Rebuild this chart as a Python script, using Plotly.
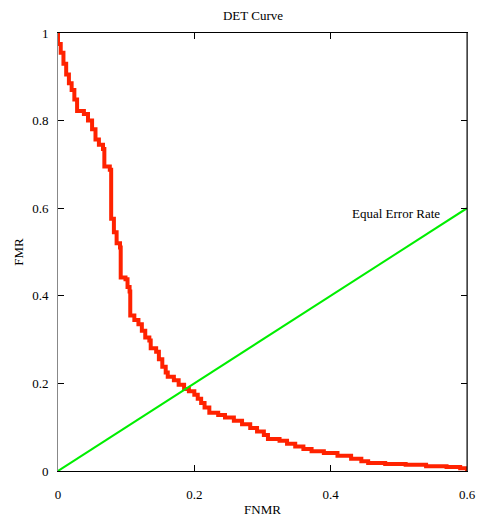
import plotly.graph_objects as go

# DET curve step vertices (x = FNMR at vertical segment, y = FMR after drop)
fnmr = [0, 0, 0.004, 0.008, 0.012, 0.016, 0.020, 0.024, 0.028, 0.038, 0.044, 0.050,
        0.055, 0.060, 0.066, 0.068, 0.076, 0.078, 0.082, 0.086, 0.091, 0.092, 0.099,
        0.102, 0.105, 0.106, 0.112, 0.118, 0.123, 0.128, 0.134, 0.136, 0.144, 0.148,
        0.153, 0.158, 0.161, 0.170, 0.177, 0.185, 0.192, 0.200, 0.205, 0.210, 0.215,
        0.222, 0.235, 0.245, 0.258, 0.270, 0.282, 0.292, 0.302, 0.308, 0.325, 0.336,
        0.348, 0.360, 0.372, 0.390, 0.410, 0.430, 0.445, 0.455, 0.480, 0.510, 0.540,
        0.570, 0.590, 0.600]
fmr = [1.0, 0.975, 0.955, 0.930, 0.905, 0.885, 0.870, 0.848, 0.822, 0.815, 0.800, 0.780,
       0.757, 0.745, 0.735, 0.695, 0.688, 0.576, 0.545, 0.520, 0.510, 0.442, 0.438,
       0.420, 0.410, 0.355, 0.345, 0.335, 0.320, 0.305, 0.298, 0.280, 0.272, 0.255,
       0.238, 0.225, 0.215, 0.207, 0.197, 0.187, 0.182, 0.174, 0.165, 0.155, 0.145,
       0.133, 0.128, 0.122, 0.115, 0.107, 0.098, 0.090, 0.082, 0.073, 0.069, 0.062,
       0.056, 0.050, 0.045, 0.041, 0.035, 0.028, 0.022, 0.018, 0.016, 0.014, 0.011,
       0.009, 0.006, 0.000]

eer_x = [0, 0.6]
eer_y = [0, 0.6]

x_ticks = [0, 0.2, 0.4, 0.6]
x_labels = ["0", "0.2", "0.4", "0.6"]
y_ticks = [0, 0.2, 0.4, 0.6, 0.8, 1]
y_labels = ["0", "0.2", "0.4", "0.6", "0.8", "1"]

font = "Liberation Serif"
fs = 13

fig = go.Figure()
fig.add_trace(go.Scatter(x=fnmr, y=fmr, mode="lines", line_shape="hv",
                         line=dict(color="#ff2200", width=4), showlegend=False))
fig.add_trace(go.Scatter(x=eer_x, y=eer_y, mode="lines",
                         line=dict(color="#00ee00", width=2), showlegend=False))

fig.add_annotation(x=0.563, y=0.589, xref="x", yref="y", text="Equal Error Rate",
                   showarrow=False, xanchor="right", yanchor="middle",
                   font=dict(family=font, size=fs, color="black"))

# black right border (left border is drawn grey by the axis line)
fig.add_shape(type="line", xref="paper", yref="paper", x0=1, x1=1, y0=0, y1=1,
              line=dict(color="black", width=1))

fig.update_layout(
    width=477, height=517,
    margin=dict(l=58, r=10, t=33, b=46),
    paper_bgcolor="white", plot_bgcolor="white",
    font=dict(family=font, size=fs, color="black"),
    title=dict(text="DET Curve", x=253 / 477, xanchor="center", y=1 - 15 / 517, yanchor="middle",
               font=dict(family=font, size=fs, color="black")),
    xaxis=dict(range=[0, 0.6], tickvals=x_ticks, ticktext=x_labels, automargin=False,
               showgrid=False, zeroline=False, showline=True, linecolor="black",
               linewidth=1, mirror="allticks", ticks="inside", ticklen=6,
               tickcolor="black", ticklabelstandoff=11,
               title=dict(text="FNMR", standoff=4, font=dict(family=font, size=fs))),
    yaxis=dict(range=[0, 1], tickvals=y_ticks, ticktext=y_labels, automargin=False,
               showgrid=False, zeroline=False, showline=True, linecolor="#888888",
               linewidth=1, mirror="allticks", ticks="inside", ticklen=6,
               tickcolor="black", ticklabelstandoff=6,
               title=dict(text="FMR", standoff=5, font=dict(family=font, size=fs))),
)

fig.write_html("out.html")
